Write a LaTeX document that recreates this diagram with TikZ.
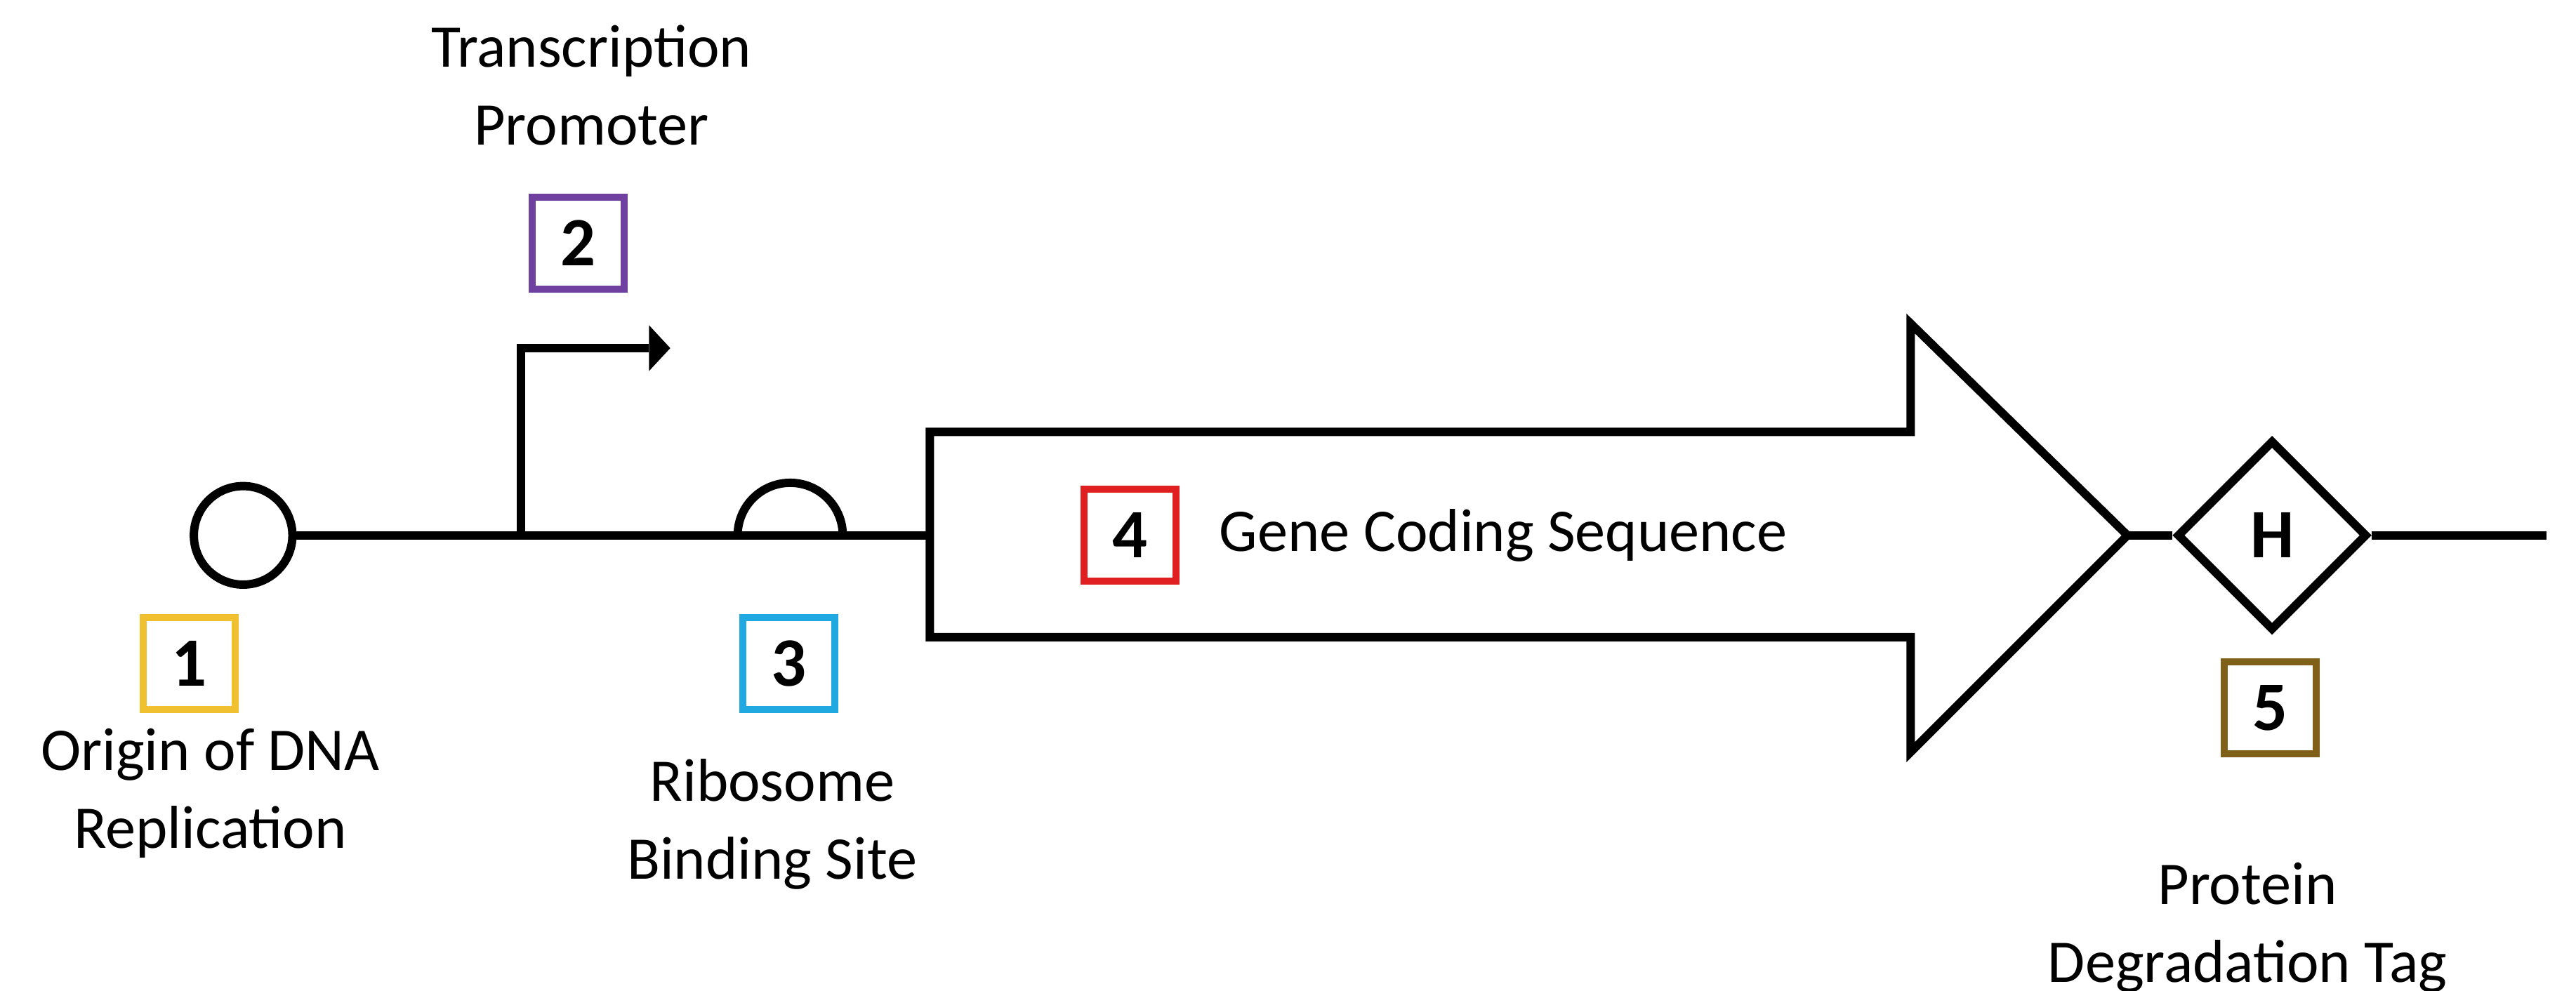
\documentclass[tikz,border=0pt]{standalone}
\usepackage{fontspec}
\setmainfont{Carlito}
\usetikzlibrary{shapes.geometric}
\definecolor{cgold}{HTML}{F0C030}
\definecolor{cpurple}{HTML}{7040A0}
\definecolor{cblue}{HTML}{20A8E0}
\definecolor{cred}{HTML}{E02020}
\definecolor{cbrown}{HTML}{806018}
\begin{document}
\begin{tikzpicture}[x=0.1mm,y=-0.1mm,line width=1.45pt,
  num/.style={draw=#1,line width=1.2pt,minimum size=5.6mm,inner sep=0pt,font=\bfseries\fontsize{12}{12}\selectfont,fill=white},
  lab/.style={align=center,font=\fontsize{10.5}{13.5}\selectfont}]
\useasboundingbox (0,0) rectangle (1568,603.4);
% backbone
\node[circle,draw,minimum size=6mm,inner sep=0pt,line width=1.45pt] (ori) at (148,326) {};
\coordinate (rbsL) at (449,326);
\coordinate (rbsR) at (513,326);
\coordinate (gL) at (566,326);
\draw (ori.east) -- (gL);
\coordinate (pb) at (317,326);
\coordinate (pt) at (317,212);
\coordinate (pe) at (408,212);
\draw (pb) -- (pt) -- (395,212);
\fill (395,198) -- (pe) -- (395,226) -- cycle;
\draw (rbsL) arc[start angle=180,end angle=0,radius=3.2mm];
% gene arrow
\coordinate (tip) at (1295,326);
\draw (566,263) -- (1163,263) -- (1163,197) -- (tip) -- (1163,458) -- (1163,388) -- (566,388) -- cycle;
\node[diamond,draw,minimum width=11.6mm,minimum height=11.6mm,inner sep=0pt,line width=1.45pt,font=\bfseries\fontsize{12}{12}\selectfont] (tag) at (1383,326) {H};
\coordinate (endR) at (1550,326);
\draw (tip) -- (tag.west);
\draw (tag.east) -- (endR);
% boxes
\node[num=cgold] (b1) at (115,404) {1};
\node[num=cpurple] (b2) at (352,148) {2};
\node[num=cblue] (b3) at (480,404) {3};
\node[num=cred] (b4) at (688,326) {4};
\node[num=cbrown] (b5) at (1382,431) {5};
% labels
\node[lab] (l1) at (128,483) {Origin of DNA\\Replication};
\node[lab] (l2) at (360,52) {Transcription\\Promoter};
\node[lab] (l3) at (470,502) {Ribosome\\Binding Site};
\node[lab,anchor=west] (l4) at (728,326) {Gene Coding Sequence};
\node[lab] (l5) at (1368,565) {Protein\\Degradation Tag};
\end{tikzpicture}
\end{document}
